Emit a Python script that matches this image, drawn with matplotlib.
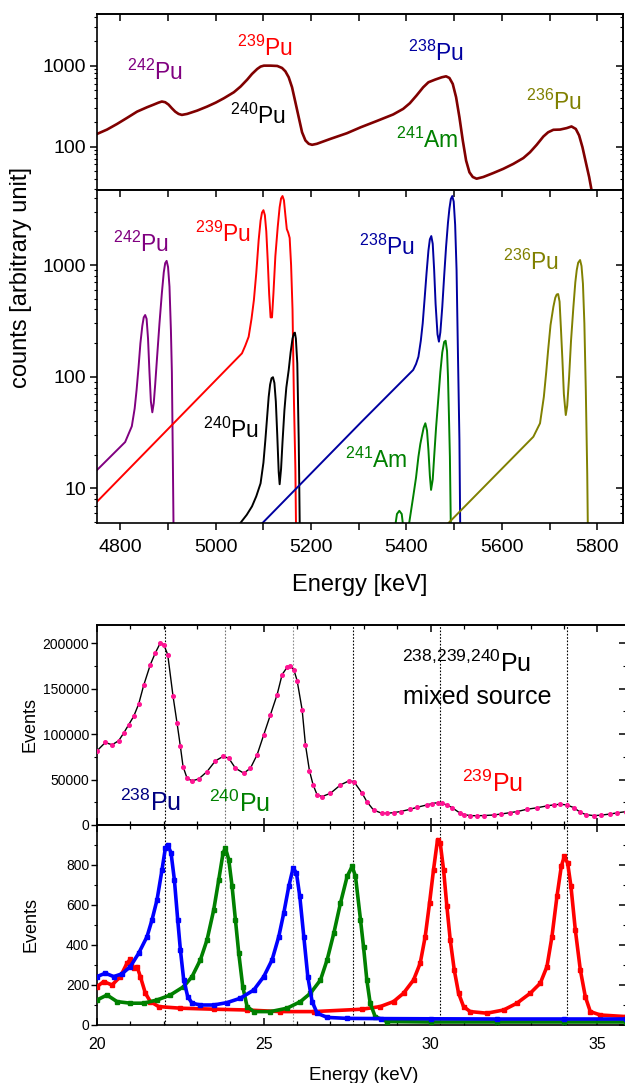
import matplotlib
matplotlib.use("Agg")
import matplotlib.pyplot as plt
from matplotlib.ticker import (MultipleLocator, LogLocator, NullFormatter, FuncFormatter,
                               FixedLocator)

plt.rcParams['font.family'] = ['Liberation Sans', 'DejaVu Sans']
plt.rcParams['mathtext.fontset'] = 'custom'
plt.rcParams['mathtext.rm'] = 'Liberation Sans'
plt.rcParams['mathtext.it'] = 'Liberation Sans:italic'
plt.rcParams['mathtext.bf'] = 'Liberation Sans:bold'
plt.rcParams['axes.linewidth'] = 1.2

# ---------------- alpha spectra, energy [keV] / counts ----------------
sum_e = [4751, 4772, 4793, 4814, 4835, 4856, 4870, 4880, 4887, 4894, 4901, 4908,
         4915, 4922, 4929, 4940, 4961, 4982, 5000, 5017, 5038, 5052, 5066, 5076,
         5087, 5094, 5101, 5115, 5129, 5139, 5146, 5153, 5160, 5167, 5174, 5181,
         5188, 5195, 5202, 5212, 5240, 5275, 5304, 5337, 5372, 5393, 5407, 5421,
         5435, 5446, 5460, 5474, 5483, 5490, 5497, 5504, 5511, 5518, 5525, 5532,
         5539, 5547, 5561, 5582, 5603, 5624, 5645, 5659, 5673, 5687, 5697, 5708,
         5722, 5736, 5746, 5755, 5762, 5769, 5776, 5783, 5788, 5795]
sum_c = [143, 162, 190, 226, 270, 306, 330, 349, 360, 353, 330, 297,
         270, 253, 246, 253, 278, 312, 349, 395, 469, 551, 672, 789,
         910, 973, 1000, 1000, 991, 936, 851, 718, 540, 353, 230, 150,
         119, 108, 105, 108, 124, 146, 173, 206, 249, 292, 343, 427,
         540, 623, 672, 718, 738, 704, 594, 407, 230, 119, 67, 48,
         42, 40, 42, 47, 53, 61, 72, 85, 105, 133, 150, 161,
         162, 169, 177, 165, 137, 98, 64, 42, 29, 18]

pu242_e = [4751, 4810, 4824, 4830, 4834, 4838, 4842, 4846, 4849, 4852, 4855, 4858,
           4861, 4864, 4867, 4870, 4873, 4877, 4882, 4887, 4891, 4894, 4897, 4900,
           4903, 4906, 4908, 4910, 4913]
pu242_c = [14.6, 26, 36, 52, 76, 120, 199, 285, 340, 357, 330, 220,
           110, 60, 48, 58, 85, 150, 300, 560, 860, 1040, 1090, 960,
           640, 260, 110, 19, 1]

pu239_e = [4751, 5055, 5062, 5069, 5075, 5080, 5085, 5090, 5094, 5097, 5100, 5103,
           5106, 5109, 5112, 5115, 5118, 5121, 5125, 5130, 5134, 5137, 5140, 5143,
           5146, 5149, 5152, 5155, 5158, 5161, 5164, 5167, 5170]
pu239_c = [7.6, 162, 190, 228, 330, 486, 850, 1675, 2500, 2950, 3100, 2800,
           2000, 1100, 550, 340, 340, 560, 1200, 2200, 3300, 3950, 4150, 3800,
           2800, 2100, 1950, 1750, 1000, 400, 60, 15, 1]

pu240_e = [5050, 5065, 5076, 5085, 5094, 5100, 5104, 5108, 5111, 5114, 5117, 5120,
           5123, 5126, 5129, 5132, 5134, 5137, 5140, 5144, 5148, 5153, 5157, 5161,
           5164, 5166, 5168, 5171, 5174, 5178]
pu240_c = [4.8, 5.8, 6.9, 8.5, 11.1, 17, 27, 45, 66, 85, 97, 99,
           88, 60, 30, 14, 10.9, 15, 26, 50, 80, 115, 165, 220,
           245, 248, 220, 132, 27, 1]

pu238_e = [5096, 5306, 5414, 5420, 5425, 5430, 5434, 5438, 5442, 5446, 5449, 5452,
           5455, 5458, 5461, 5465, 5468, 5471, 5475, 5479, 5483, 5487, 5490, 5493,
           5496, 5499, 5502, 5505, 5508, 5511, 5514]
pu238_c = [4.8, 39.6, 115, 130, 151, 210, 301, 500, 843, 1350, 1700, 1818,
           1550, 902, 450, 240, 206, 250, 420, 800, 1459, 2400, 3200, 3900,
           4150, 3700, 2300, 900, 150, 27, 1]

am241_e = [5370, 5380, 5385, 5390, 5398, 5414, 5420, 5425, 5429, 5432, 5436, 5439.5,
           5443, 5446, 5449, 5451.5, 5455, 5458, 5462, 5467, 5471, 5475, 5479, 5482,
           5485, 5487, 5489, 5491, 5495]
am241_c = [3, 5.9, 6.3, 5.9, 3, 8.4, 12.5, 19.2, 25, 29, 35, 38.3,
           33, 22, 13, 9.7, 12, 19.2, 35, 66, 110, 165, 205, 210,
           170, 100, 45, 19.2, 1]

pu236_e = [5486, 5666, 5680, 5688, 5693, 5697, 5702, 5708, 5712, 5715, 5718, 5721,
           5724, 5727, 5730, 5734, 5737, 5741, 5745, 5750, 5754, 5757, 5760, 5764,
           5767, 5770, 5773, 5776, 5779, 5782]
pu236_c = [4.8, 29, 38.3, 66, 110, 173, 290, 423, 510, 545, 550, 470,
           262, 140, 70, 45.4, 55, 100, 210, 423, 700, 902, 1050, 1109,
           980, 680, 300, 76, 13.6, 1]

# ---------------- x-ray spectra, energy [keV] / events ----------------
mix_e = [20.0, 20.25, 20.45, 20.65, 20.8, 20.95, 21.1, 21.25, 21.4, 21.6, 21.75, 21.9,
         22.0, 22.12, 22.28, 22.4, 22.5, 22.58, 22.7, 22.85, 23.05, 23.3, 23.55, 23.78,
         23.95, 24.15, 24.4, 24.6, 24.8, 25.0, 25.2, 25.4, 25.55, 25.7, 25.8, 25.9,
         26.0, 26.15, 26.25, 26.37, 26.48, 26.6, 26.75, 27.0, 27.3, 27.55, 27.7, 27.95,
         28.09, 28.29, 28.54, 28.7, 28.89, 29.1, 29.39, 29.6, 29.89, 30.05, 30.21, 30.35,
         30.49, 30.65, 30.89, 31.0, 31.19, 31.4, 31.6, 31.89, 32.1, 32.39, 32.6, 32.89,
         33.2, 33.49, 33.7, 33.89, 34.09, 34.3, 34.49, 34.65, 34.89, 35.1, 35.39, 35.6,
         35.86]
mix_c = [81600, 90800, 88200, 92700, 101100, 110300, 119500, 133100, 153700, 176500, 189400, 200400,
         198500, 187500, 141600, 112100, 86400, 64300, 51500, 48500, 50700, 58800, 70600, 75400,
         73500, 62500, 57000, 62500, 77200, 99300, 121300, 143400, 165500, 173500, 174600, 171000,
         158800, 126800, 88200, 59600, 44100, 33100, 31300, 34900, 44100, 48500, 47800, 34900,
         25700, 16500, 12900, 12900, 13600, 14800, 17300, 19500, 22100, 23600, 24600, 23700,
         22100, 19000, 12900, 11500, 10300, 10200, 10400, 11000, 12000, 13600, 14800, 17300,
         19000, 21000, 22200, 22800, 22100, 19000, 14000, 11500, 10300, 10800, 12100, 13400,
         14700]

pu238x_e = [20.0, 20.25, 20.5, 20.75, 21.0, 21.25, 21.5, 21.65, 21.8, 21.95, 22.05, 22.12,
            22.22, 22.32, 22.42, 22.5, 22.6, 22.72, 22.85, 23.1, 23.5, 23.9, 24.3, 24.7,
            25.0, 25.25, 25.45, 25.6, 25.75, 25.88, 25.98, 26.08, 26.2, 26.32, 26.45, 26.6,
            26.9, 27.5, 28.5, 30.0, 32.0, 34.0, 35.86]
pu238x_c = [242, 259, 242, 256, 292, 359, 442, 526, 626, 777, 885, 902,
            860, 726, 526, 376, 225, 142, 109, 100, 100, 112, 134, 175,
            242, 326, 442, 560, 693, 785, 760, 643, 442, 242, 117, 59,
            38, 33, 32, 31, 30, 30, 30]

pu240x_e = [20.0, 20.3, 20.6, 21.0, 21.4, 21.8, 22.2, 22.6, 22.85, 23.1, 23.3, 23.5,
            23.65, 23.78, 23.85, 23.95, 24.05, 24.15, 24.25, 24.37, 24.5, 24.7, 25.2, 25.7,
            26.1, 26.4, 26.7, 26.9, 27.1, 27.3, 27.5, 27.65, 27.75, 27.9, 27.99, 28.09,
            28.19, 28.34, 28.69, 30.0, 32.0, 34.0, 35.86]
pu240x_c = [125, 150, 117, 109, 109, 125, 150, 192, 242, 326, 426, 576,
            726, 860, 885, 827, 693, 526, 359, 192, 92, 67, 67, 84,
            117, 159, 225, 326, 459, 610, 743, 793, 743, 526, 392, 225,
            109, 42, 17, 15, 15, 15, 15]

pu239x_e = [20.0, 20.2, 20.45, 20.7, 20.9, 21.0, 21.1, 21.2, 21.3, 21.45, 21.6, 21.85,
            22.5, 23.5, 24.5, 25.5, 26.5, 27.95, 28.49, 28.89, 29.19, 29.49, 29.69, 29.84,
            29.97, 30.09, 30.21, 30.29, 30.39, 30.49, 30.59, 30.71, 30.84, 30.99, 31.19, 31.69,
            32.19, 32.59, 32.99, 33.29, 33.49, 33.64, 33.79, 33.92, 34.01, 34.11, 34.21, 34.34,
            34.49, 34.64, 34.79, 35.09, 35.86]
pu239x_c = [192, 217, 200, 242, 309, 329, 284, 292, 242, 159, 117, 92,
            84, 79, 75, 67, 67, 79, 92, 117, 159, 225, 309, 442,
            610, 777, 927, 910, 777, 593, 426, 276, 159, 92, 67, 59,
            75, 109, 159, 209, 292, 442, 643, 793, 843, 810, 693, 476,
            276, 142, 67, 50, 42]

xray_lines = [22.05, 23.85, 25.87, 27.69, 30.27, 34.09]
xray_line_colors = ['k', '0.45', '0.55', 'k', 'k', 'k']

C242, C239, C240, C238, C241, C236 = '#800080', '#ff0000', '#000000', '#0000a0', '#008000', '#808000'

W, H = 625, 1083
fig = plt.figure(figsize=(W / 100, H / 100), dpi=100)


def box(x0, y0, x1, y1):
    return [x0 / W, 1 - y1 / H, (x1 - x0) / W, (y1 - y0) / H]


def right_ticks(ax, major, minor=None):
    sec = ax.secondary_yaxis('right')
    sec.yaxis.set_major_locator(major)
    if minor is not None:
        sec.yaxis.set_minor_locator(minor)
    sec.yaxis.set_major_formatter(NullFormatter())
    sec.yaxis.set_minor_formatter(NullFormatter())
    sec.tick_params(which='major', direction='in', length=5, width=1.1)
    sec.tick_params(which='minor', direction='in', length=2.5, width=0.8)
    for s in sec.spines.values():
        s.set_linewidth(1.2)
    return sec


def top_ticks(ax, major, minor=None):
    sec = ax.secondary_xaxis('top')
    sec.xaxis.set_major_locator(major)
    if minor is not None:
        sec.xaxis.set_minor_locator(minor)
    sec.xaxis.set_major_formatter(NullFormatter())
    sec.xaxis.set_minor_formatter(NullFormatter())
    sec.tick_params(which='major', direction='in', length=5, width=1.1)
    sec.tick_params(which='minor', direction='in', length=3, width=0.9)
    for s in sec.spines.values():
        s.set_linewidth(1.2)
    return sec


plain = FuncFormatter(lambda v, p: f'{v:.0f}')

ax_sum = fig.add_axes(box(97, 14, 623, 190))
ax_iso = fig.add_axes(box(97, 190, 623, 523))
ax_mix = fig.add_axes(box(97, 625, 626, 825))
ax_sep = fig.add_axes(box(97, 825, 626, 1025))

# ---- summed alpha spectrum ----
ax_sum.plot(sum_e, sum_c, color='#800000', lw=1.9)
ax_sum.set_yscale('log')
ax_sum.set_xlim(4751, 5854)
ax_sum.set_ylim(29, 4350)

# ---- individual isotopes ----
for e, c, col in [(pu242_e, pu242_c, C242), (pu239_e, pu239_c, C239),
                  (pu240_e, pu240_c, C240), (pu238_e, pu238_c, C238),
                  (am241_e, am241_c, C241), (pu236_e, pu236_c, C236)]:
    ax_iso.plot(e, c, color=col, lw=1.4)
ax_iso.set_yscale('log')
ax_iso.set_xlim(4751, 5854)
ax_iso.set_ylim(4.9, 4700)

for ax in (ax_sum, ax_iso):
    ax.yaxis.set_major_locator(LogLocator(base=10))
    ax.yaxis.set_minor_locator(LogLocator(base=10, subs=range(2, 10)))
    ax.yaxis.set_major_formatter(plain)
    ax.yaxis.set_minor_formatter(NullFormatter())
    ax.xaxis.set_major_locator(MultipleLocator(200))
    ax.xaxis.set_minor_locator(MultipleLocator(100))
    ax.tick_params(axis='y', which='major', direction='out', length=5, width=1.1,
                   labelsize=14, pad=3)
    ax.tick_params(axis='y', which='minor', direction='out', length=2.5, width=0.8)
    ax.tick_params(axis='x', which='both', direction='out', length=5, width=1.1,
                   labelsize=14, pad=6.5)
    right_ticks(ax, LogLocator(base=10), LogLocator(base=10, subs=range(2, 10)))
    top_ticks(ax, MultipleLocator(100))

ax_sum.tick_params(axis='x', which='both', bottom=False, labelbottom=False)

fs_iso = 16.5
for ax, items in [
    (ax_sum, [(4873, 672, '242', C242), (5103, 1328, '239', C239), (5089, 190, '240', C240),
              (5461, 1152, '238', C238), (5709, 286, '236', C236)]),
    (ax_iso, [(4844, 1300, '242', C242), (5015, 1597, '239', C239), (5032, 28.1, '240', C240),
              (5359, 1229, '238', C238), (5661, 902, '236', C236)]),
]:
    for x, y, a, col in items:
        ax.text(x, y, r'$^{%s}$Pu' % a, color=col, fontsize=fs_iso, ha='center', va='baseline')
ax_sum.text(5443, 95.5, r'$^{241}$Am', color=C241, fontsize=fs_iso, ha='center', va='baseline')
ax_iso.text(5337, 15.2, r'$^{241}$Am', color=C241, fontsize=fs_iso, ha='center', va='baseline')

fig.text(21 / W, 1 - 277 / H, 'counts [arbitrary unit]', rotation=90, fontsize=17,
         ha='center', va='center')
fig.text(360 / W, 1 - 585 / H, 'Energy [keV]', fontsize=17, ha='center', va='center')

# ---- mixed source x-ray spectrum ----
for xl, lc in zip(xray_lines, xray_line_colors):
    for ax in (ax_mix, ax_sep):
        ax.axvline(xl, color=lc, lw=0.8, ls=(0, (1.5, 1.5)), zorder=1)

ax_mix.plot(mix_e, mix_c, color='k', lw=1.0, zorder=2)
ax_mix.plot(mix_e, mix_c, ls='none', marker='o', ms=2.6, color='#ff1493', zorder=3)
ax_mix.set_ylim(0, 220000)
ax_mix.yaxis.set_major_locator(MultipleLocator(50000))
ax_mix.yaxis.set_minor_locator(MultipleLocator(25000))
right_ticks(ax_mix, MultipleLocator(50000), MultipleLocator(25000))

for e, c, col in [(pu239x_e, pu239x_c, '#ff0000'), (pu240x_e, pu240x_c, '#008000'),
                  (pu238x_e, pu238x_c, '#0000ff')]:
    ax_sep.plot(e, c, color=col, lw=2.6, marker='s', ms=2.8, mec=col, zorder=3)
ax_sep.set_ylim(0, 1000)
ax_sep.yaxis.set_major_locator(FixedLocator([0, 200, 400, 600, 800]))
ax_sep.yaxis.set_minor_locator(FixedLocator([100, 300, 500, 700, 900]))
right_ticks(ax_sep, FixedLocator([0, 200, 400, 600, 800]),
            FixedLocator([100, 300, 500, 700, 900]))

for ax in (ax_mix, ax_sep):
    ax.set_xlim(20, 35.86)
    ax.xaxis.set_major_locator(MultipleLocator(5))
    ax.xaxis.set_minor_locator(MultipleLocator(1))
    ax.yaxis.set_major_formatter(plain)
    ax.tick_params(axis='y', which='major', direction='out', length=4, width=1.0,
                   labelsize=10, pad=1.5)
    ax.tick_params(axis='y', which='minor', direction='out', length=2, width=0.8)
    ax.tick_params(axis='x', which='major', direction='in', length=5, width=1.1,
                   labelsize=11.5, pad=8.5)
    ax.tick_params(axis='x', which='minor', direction='in', length=3, width=0.9)
    top_ticks(ax, MultipleLocator(5), MultipleLocator(1))

ax_mix.tick_params(axis='x', which='both', labelbottom=False)
ax_mix.set_ylabel('Events', fontsize=13)
ax_mix.yaxis.set_label_coords(-0.111, 0.5)
ax_sep.set_ylabel('Events', fontsize=13)
ax_sep.yaxis.set_label_coords(-0.108, 0.5)
fig.text(364 / W, 1 - 1075 / H, 'Energy (keV)', fontsize=13.5, ha='center', va='center')

fs_x = 18
ax_mix.text(29.14, 168400, r'$^{238{,}239{,}240}$Pu', fontsize=fs_x, ha='left', va='baseline')
ax_mix.text(29.17, 133500, 'mixed source', fontsize=fs_x, ha='left', va='baseline')
ax_mix.text(20.7, 15800, r'$^{238}$Pu', color='#000080', fontsize=fs_x, ha='left', va='baseline')
ax_mix.text(23.35, 14700, r'$^{240}$Pu', color='#008000', fontsize=fs_x, ha='left', va='baseline')
ax_mix.text(30.93, 36700, r'$^{239}$Pu', color='#ff0000', fontsize=fs_x, ha='left', va='baseline')

fig.savefig('out.png', dpi=100)
